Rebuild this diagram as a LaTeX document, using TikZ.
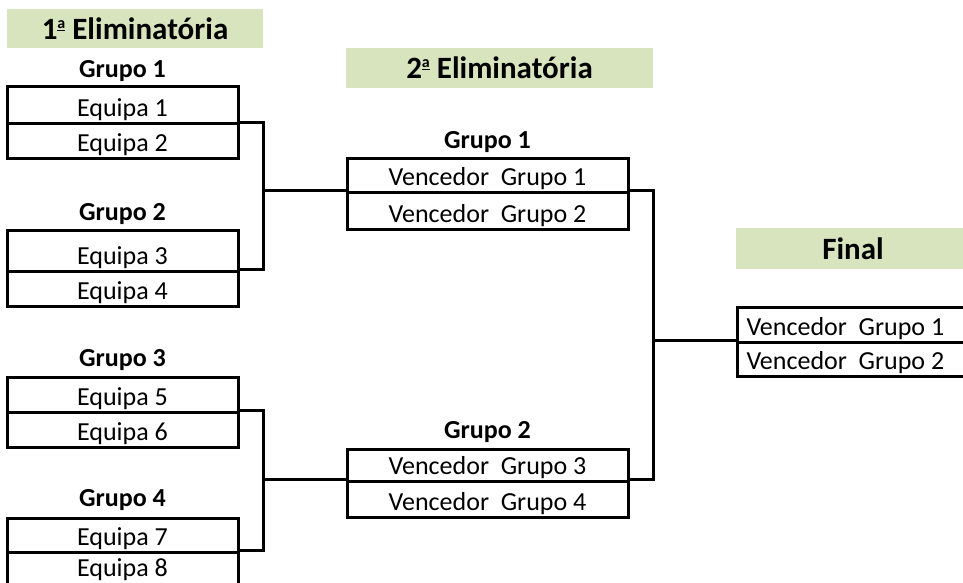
\documentclass[tikz,border=0pt]{standalone}
\usepackage{fontspec}
\setmainfont{Carlito}
\definecolor{hdrgreen}{RGB}{215,228,189}
\newcommand{\ordfem}{\raisebox{11pt}{\fontsize{16}{18}\selectfont\bfseries\underline{a}}}
\begin{document}
\begin{tikzpicture}[x=1pt,y=-1pt, line width=3pt, line join=miter,
  every node/.style={font=\fontsize{26}{30}\selectfont},
  hdrbox/.style={fill=hdrgreen, draw=none, inner sep=0pt, font=\fontsize{31}{36}\selectfont\bfseries},
  grp/.style={font=\fontsize{26}{30}\selectfont\bfseries, anchor=base, inner sep=0pt},
  cellL/.style={draw, inner sep=0pt, anchor=base, minimum width=231pt, text depth=7pt, text height=#1},
  cellM/.style={draw, inner sep=0pt, anchor=base, minimum width=281pt, text depth=7pt, text height=#1},
  cellF/.style={draw, inner sep=0pt, inner xsep=9pt, anchor=base west, text depth=7pt, text height=#1}]
\clip (0,0) rectangle (963,583);
\fill[white] (0,0) rectangle (963,583);

% headers
\node[hdrbox, minimum width=256pt, minimum height=39pt, text height=22pt, text depth=0pt] (h1) at (135,28.5) {1\ordfem\ Eliminatória};
\node[hdrbox, minimum width=307pt, minimum height=40pt, text height=22pt, text depth=0pt] (h2) at (499.5,68) {2\ordfem\ Eliminatória};
\node[hdrbox, minimum width=234pt, minimum height=41pt, text height=22pt, text depth=0pt] (h3) at (853,248.5) {Final};

% group labels
\node[grp] (gl1) at (122.5,78) {Grupo 1};
\node[grp] (gl2) at (122.5,220) {Grupo 2};
\node[grp] (gl3) at (122.5,366) {Grupo 3};
\node[grp] (gl4) at (122.5,506) {Grupo 4};
\node[grp] (gm1) at (487.5,148) {Grupo 1};
\node[grp] (gm2) at (487.5,438) {Grupo 2};

% first round
\node[cellL=30pt] (e1) at (122.5,117) {Equipa 1};
\node[cellL=27pt] (e2) at (122.5,151) {Equipa 2};
\node[cellL=34pt] (e3) at (122.5,264) {Equipa 3};
\node[cellL=28pt] (e4) at (122.5,299) {Equipa 4};
\node[cellL=28pt] (e5) at (122.5,405) {Equipa 5};
\node[cellL=28pt] (e6) at (122.5,440) {Equipa 6};
\node[cellL=27pt] (e7) at (122.5,545) {Equipa 7};
\node[cellL=24pt, text depth=12pt] (e8) at (122.5,576) {Equipa 8};

% second round
\node[cellM=27pt] (v1) at (487.5,185) {Vencedor~~Grupo 1};
\node[cellM=30pt] (v2) at (487.5,222) {Vencedor~~Grupo 2};
\node[cellM=25pt] (v3) at (487.5,474) {Vencedor~~Grupo 3};
\node[cellM=29pt] (v4) at (487.5,510) {Vencedor~~Grupo 4};

% final
\node[cellF=28pt] (f1) at (736,335) {\makebox[261pt][l]{Vencedor~~Grupo 1}};
\node[cellF=27pt] (f2) at (736,369) {\makebox[261pt][l]{Vencedor~~Grupo 2}};

% connectors
\coordinate (jL) at (263,0);
\coordinate (jR) at (653,0);
\draw (e2.north east) -- (e2.north east -| jL) |- (e4.north east);
\draw (v2.north west) -- (v2.north west -| jL);
\draw (e6.north east) -- (e6.north east -| jL) |- (e8.north east);
\draw (v4.north west) -- (v4.north west -| jL);
\draw (v2.north east) -- (v2.north east -| jR) |- (v4.north east);
\draw (f2.north west) -- (f2.north west -| jR);
\end{tikzpicture}
\end{document}
